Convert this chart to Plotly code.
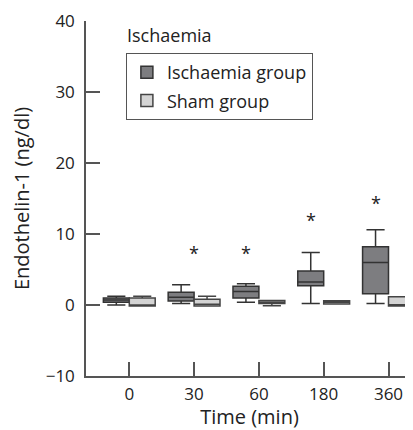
import plotly.graph_objects as go

times = ["0", "30", "60", "180", "360"]

# Ischaemia group box stats
isch_min = [0.0, 0.2, 0.4, 0.2, 0.2]
isch_q1 = [0.4, 0.55, 1.0, 2.7, 1.6]
isch_med = [0.7, 1.1, 1.9, 3.25, 6.0]
isch_q3 = [1.0, 1.8, 2.65, 4.8, 8.2]
isch_max = [1.25, 2.85, 3.0, 7.4, 10.6]

# Sham group box stats
sham_min = [-0.15, -0.15, -0.1, 0.15, -0.15]
sham_q1 = [-0.15, -0.15, 0.2, 0.15, -0.15]
sham_med = [0.0, 0.1, 0.4, 0.4, 0.05]
sham_q3 = [1.0, 0.8, 0.65, 0.6, 1.15]
sham_max = [1.25, 1.25, 0.65, 0.6, 1.15]

# significance markers
star_times = ["30", "60", "180", "360"]
star_y = [7.9, 7.9, 12.6, 15.0]
star_xshift = [0, -13, -13, -13]

FONT = "Open Sans"
AX = "#555555"

fig = go.Figure()
fig.add_trace(go.Box(
    name="Ischaemia group", x=times, legendgroup="a",
    q1=isch_q1, median=isch_med, q3=isch_q3,
    lowerfence=isch_min, upperfence=isch_max,
    fillcolor="#7d7d80", line=dict(color="#333333", width=1.5),
    whiskerwidth=0.7,
))
fig.add_trace(go.Box(
    name="Sham group", x=times, legendgroup="b",
    q1=sham_q1, median=sham_med, q3=sham_q3,
    lowerfence=sham_min, upperfence=sham_max,
    fillcolor="#d4d4d4", line=dict(color="#444444", width=1.5),
    whiskerwidth=0.7,
))

for t, y, dx in zip(star_times, star_y, star_xshift):
    fig.add_annotation(x=times.index(t), y=y, text="*", showarrow=False,
                       xshift=dx, yshift=-4,
                       font=dict(family=FONT, size=18, color="#222222"))

fig.add_annotation(xref="paper", yref="paper", x=0.119, y=0.96, text="Ischaemia",
                   showarrow=False, xanchor="left", yanchor="middle",
                   font=dict(family=FONT, size=18, color="#222222"))

fig.update_layout(
    width=405, height=422,
    margin=dict(l=78, r=0, t=13, b=54, autoexpand=False),
    paper_bgcolor="white", plot_bgcolor="white",
    boxmode="group", boxgap=0.2, boxgroupgap=0,
    font=dict(family=FONT, size=17, color="#222222"),
    legend=dict(x=0.122, y=0.91, xanchor="left", yanchor="top",
                bordercolor=AX, borderwidth=1, font=dict(size=18),
                bgcolor="white", traceorder="grouped", tracegroupgap=2),
    xaxis=dict(type="category", categoryorder="array", categoryarray=times,
               range=[-0.668, 4.378], showline=True, linecolor=AX, linewidth=1.5,
               ticks="inside", ticklen=14, tickcolor=AX, tickwidth=1.5,
               showgrid=False, zeroline=False, automargin=False,
               ticklabelstandoff=2,
               title=dict(text="Time (min)", standoff=2)),
    yaxis=dict(range=[-10, 40], tickvals=[-10, 0, 10, 20, 30, 40],
               ticktext=["\u221210", "0", "10", "20", "30", "40"],
               showline=True, linecolor=AX, linewidth=1.5,
               ticks="inside", ticklen=14, tickcolor=AX, tickwidth=1.5,
               showgrid=False, zeroline=False, automargin=False,
               ticklabelstandoff=6,
               title=dict(text="Endothelin-1 (ng/dl)", standoff=11)),
)

fig.write_html("out.html")
